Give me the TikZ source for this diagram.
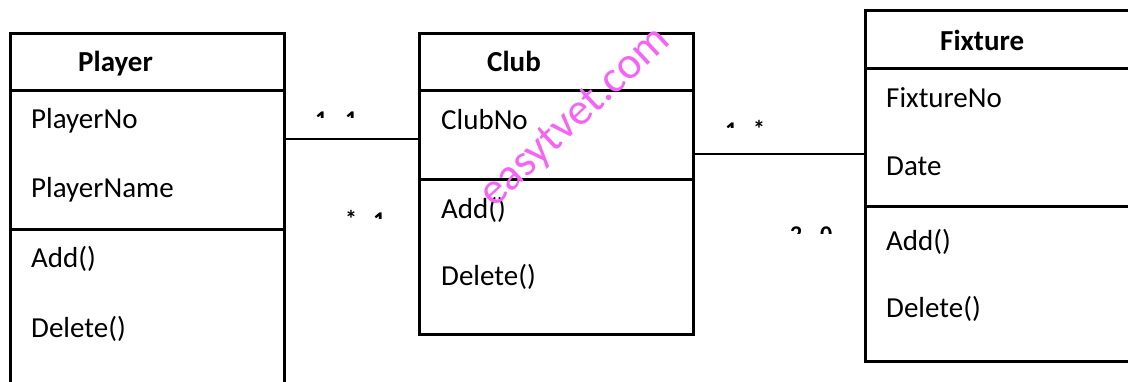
\documentclass[tikz,border=0pt]{standalone}
\usepackage{fontspec}
\setmainfont{Carlito}
\definecolor{wm}{RGB}{245,100,245}
\begin{document}
\begin{tikzpicture}[x=1pt,y=-1pt,
  box/.style={draw, line width=3pt, rectangle, inner sep=0pt, anchor=north west},
  sep/.style={line width=3pt},
  conn/.style={line width=2.6pt},
  lbl/.style={anchor=base west, inner sep=0pt, font=\fontsize{29}{34}\selectfont},
  hdr/.style={anchor=base west, inner sep=0pt, font=\fontsize{29}{34}\selectfont\bfseries},
  mult/.style={anchor=base west, inner sep=0pt, font=\fontsize{24}{28}\selectfont\bfseries},
]
\clip (0,0) rectangle (1128,381);
\fill[white] (0,0) rectangle (1128,381);

% class boxes
\node[box, minimum width=274pt, minimum height=370pt] (player) at (9,32) {};
\node[box, minimum width=274pt, minimum height=301pt] (club) at (418,32) {};
\node[box, minimum width=280pt, minimum height=351pt] (fixture) at (864,9) {};

% dividers
\draw[sep] ([yshift=-58pt]player.north west) -- ([yshift=-58pt]player.north east);
\draw[sep] ([yshift=-197pt]player.north west) -- ([yshift=-197pt]player.north east);
\draw[sep] ([yshift=-58pt]club.north west) -- ([yshift=-58pt]club.north east);
\draw[sep] ([yshift=-147pt]club.north west) -- ([yshift=-147pt]club.north east);
\draw[sep] ([yshift=-59pt]fixture.north west) -- ([yshift=-59pt]fixture.north east);
\draw[sep] ([yshift=-197pt]fixture.north west) -- ([yshift=-197pt]fixture.north east);

% texts
\node[hdr] (pt) at (78,71) {Player};
\node[lbl] (p1) at (31,128) {PlayerNo};
\node[lbl] (p2) at (31,197) {PlayerName};
\node[lbl] (p3) at (31,267) {Add()};
\node[lbl] (p4) at (31,337) {Delete()};

\node[hdr] (ct) at (487,71) {Club};
\node[lbl] (c1) at (441,129) {ClubNo};
\node[lbl] (c3) at (441,218) {Add()};
\node[lbl] (c4) at (441,285) {Delete()};

\node[hdr] (ft) at (940,50) {Fixture};
\node[lbl] (f1) at (886,107) {FixtureNo};
\node[lbl] (f2) at (886,175) {Date};
\node[lbl] (f3) at (886,250) {Add()};
\node[lbl] (f4) at (886,317) {Delete()};

% connectors
\coordinate (pcy) at (0,139);
\coordinate (cfy) at (0,154);
\draw[conn] (player.east |- pcy) -- (club.west |- pcy);
\draw[conn] (club.east |- cfy) -- (fixture.west |- cfy);

% clipped multiplicity labels
\begin{scope}
\clip (300,100) rectangle (370,117);
\node[mult] (m1) at (315,127.5) {1};
\node[mult] (m2) at (345,127.5) {1};
\end{scope}
\begin{scope}
\clip (330,200) rectangle (400,218);
\node[mult] (m3) at (345,227) {*};
\node[mult] (m4) at (373,228) {1};
\end{scope}
\begin{scope}
\clip (715,110) rectangle (790,127);
\node[mult] (m5) at (725,138.5) {1};
\node[mult] (m6) at (753,137) {*};
\end{scope}
\begin{scope}
\clip (780,215) rectangle (850,233);
\node[mult] (m7) at (790,242.5) {2};
\node[mult] (m8) at (820,242.5) {0};
\end{scope}

% watermark
\node[rotate=43, text=wm, inner sep=0pt, font=\fontsize{45}{48}\selectfont] (wmk) at (576,118) {easytvet.com};
\end{tikzpicture}
\end{document}
